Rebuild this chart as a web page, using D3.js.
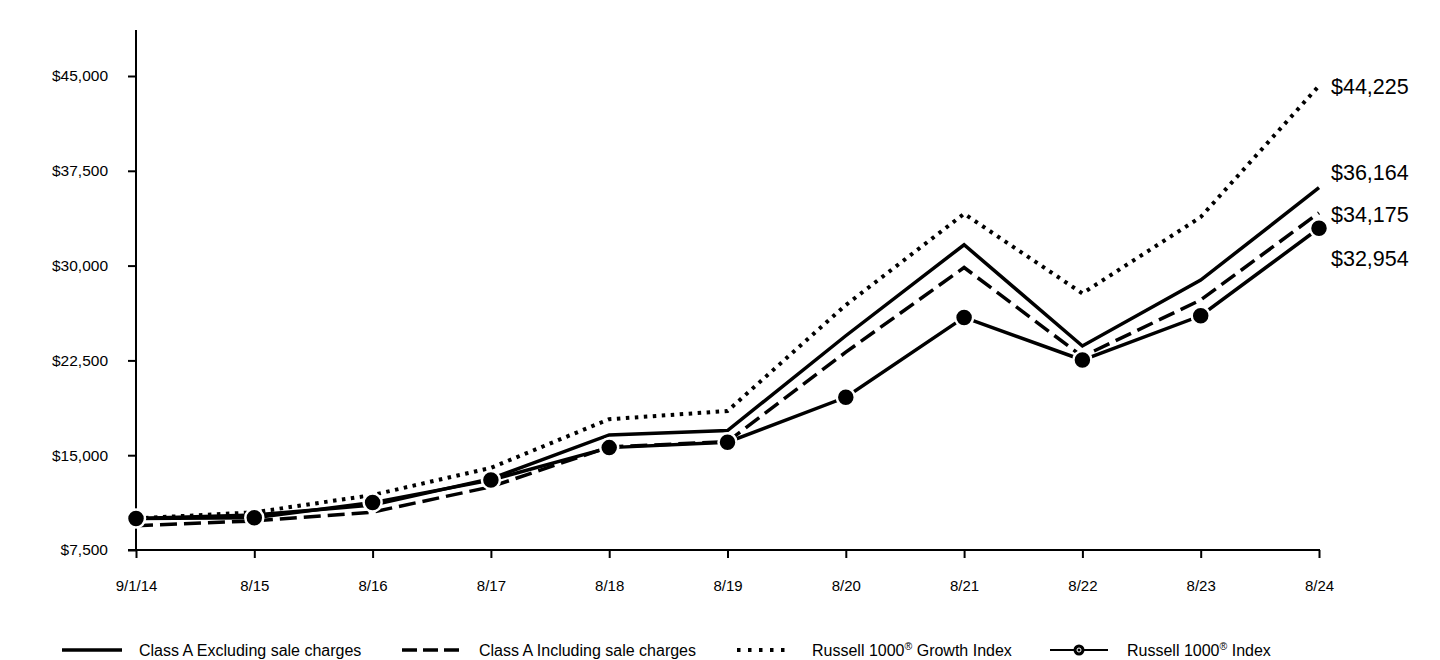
<!DOCTYPE html>
<html><head><meta charset="utf-8">
<script src="https://cdn.jsdelivr.net/npm/d3@7"></script>
<style>body{margin:0;background:#fff;} text{font-family:"Liberation Sans",Arial,sans-serif;fill:#000;}</style>
</head><body><svg id="c" width="1440" height="660"></svg>
<script>
const categories = ["9/1/14","8/15","8/16","8/17","8/18","8/19","8/20","8/21","8/22","8/23","8/24"];
const classAExcl = [10000,10270,11050,13150,16600,16950,24450,31650,23640,28850,36164];
const classAIncl = [9425,9800,10500,12500,15650,16080,23150,29850,22800,27280,34175];
const r1000Growth = [10000,10480,11850,14000,17850,18500,26880,34100,27800,33840,44225];
const r1000 = [10000,10050,11250,13030,15600,16030,19580,25900,22530,26030,32954];
const yTicks = [7500,15000,22500,30000,37500,45000];
const endLabels = ["$44,225","$36,164","$34,175","$32,954"];
const legendNames = ["Class A Excluding sale charges","Class A Including sale charges","Russell 1000® Growth Index","Russell 1000® Index"];

const svg = d3.select("#c");
const x = d3.scalePoint().domain(categories).range([136,1319]);
const y = d3.scaleLinear().domain([7500,45000]).range([550,76]);

// y axis
const yAxis = svg.append("g").attr("transform","translate(136,0)")
  .call(d3.axisLeft(y).tickValues(yTicks).tickSize(8).tickPadding(28).tickFormat(d=>"$"+d3.format(",")(d)));
yAxis.attr("font-size",null).attr("font-family",null);
yAxis.select(".domain").remove();
yAxis.selectAll("line").attr("stroke","#000").attr("stroke-width",2);
yAxis.selectAll("text").attr("font-size",15.5).attr("x",-28);
svg.append("line").attr("x1",136).attr("x2",136).attr("y1",30).attr("y2",550).attr("stroke","#000").attr("stroke-width",2);

// x axis
const xAxis = svg.append("g").attr("transform","translate(0,550)")
  .call(d3.axisBottom(x).tickSize(8).tickPadding(22));
xAxis.attr("font-size",null).attr("font-family",null);
xAxis.select(".domain").remove();
xAxis.selectAll("line").attr("stroke","#000").attr("stroke-width",2);
xAxis.selectAll("text").attr("font-size",15);
svg.append("line").attr("x1",128).attr("x2",1320).attr("y1",550).attr("y2",550).attr("stroke","#000").attr("stroke-width",2);

const line = d3.line().x((d,i)=>x(categories[i])).y(d=>y(d));
const styles = [
  {data:r1000Growth, dash:"3.5,5.5", w:4},
  {data:classAExcl, dash:null, w:3.5},
  {data:classAIncl, dash:"17,7", w:3.5},
];
styles.forEach(s=>{
  svg.append("path").datum(s.data).attr("d",line).attr("fill","none")
    .attr("stroke","#000").attr("stroke-width",s.w).attr("stroke-dasharray",s.dash)
    .attr("stroke-linejoin","miter");
});
svg.append("path").datum(r1000).attr("d",line).attr("fill","none").attr("stroke","#000").attr("stroke-width",3.5);
svg.selectAll("circle.m").data(r1000).enter().append("circle").attr("class","m")
  .attr("cx",(d,i)=>x(categories[i])).attr("cy",d=>y(d)).attr("r",9)
  .attr("fill","#000").attr("stroke","#fff").attr("stroke-width",2.5);

// end labels
const endY = [86,172,214,258];
endLabels.forEach((t,i)=>{
  svg.append("text").attr("x",1331).attr("y",endY[i]).attr("dy","0.35em").attr("font-size",21.5).text(t);
});

// legend
const ly = 650;
const leg = [
  {x1:62,x2:122,tx:139,dash:null,w:3.5},
  {x1:402,x2:460,tx:479,dash:"15,6",w:3.5},
  {x1:737,x2:792,tx:812,dash:"3.5,7.5",w:4},
  {x1:1050,x2:1108,tx:1127,dash:null,w:2,marker:true}
];
leg.forEach((l,i)=>{
  svg.append("line").attr("x1",l.x1).attr("x2",l.x2).attr("y1",ly).attr("y2",ly)
    .attr("stroke","#000").attr("stroke-width",l.w).attr("stroke-dasharray",l.dash);
  if(l.marker){
    svg.append("circle").attr("cx",(l.x1+l.x2)/2).attr("cy",ly).attr("r",5.5).attr("fill","#000");
    svg.append("circle").attr("cx",(l.x1+l.x2)/2).attr("cy",ly).attr("r",2).attr("fill","none").attr("stroke","#fff").attr("stroke-width",1);
  }
  const t = svg.append("text").attr("x",l.tx).attr("y",ly).attr("dy","0.35em").attr("font-size",16);
  const name = legendNames[i];
  if(name.includes("®")){
    const parts = name.split("®");
    t.append("tspan").text(parts[0]);
    t.append("tspan").text("®").attr("font-size",10.5).attr("dy","-0.55em");
    t.append("tspan").text(parts[1]).attr("dy","0.37em");
  } else t.text(name);
});
</script></body></html>
